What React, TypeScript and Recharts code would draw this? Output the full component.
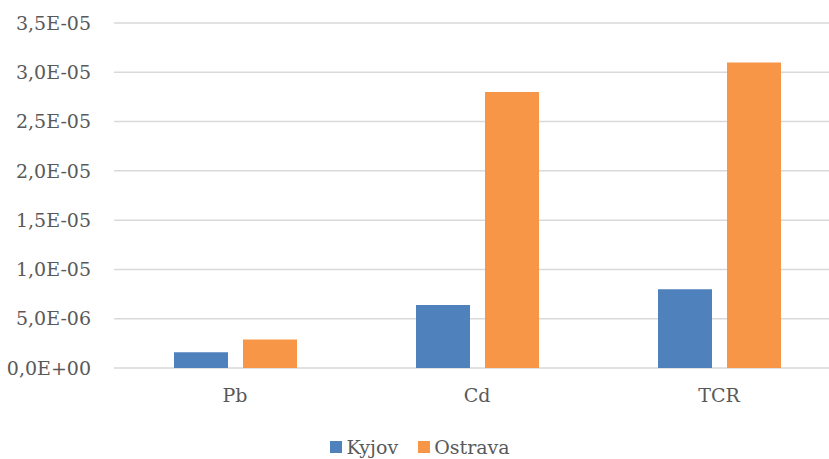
import { Bar, BarChart, CartesianGrid, Legend, XAxis, YAxis } from 'recharts'

const categories = ['Pb', 'Cd', 'TCR']
const kyjov = [1.6e-6, 6.4e-6, 8.0e-6]
const ostrava = [2.9e-6, 2.8e-5, 3.1e-5]
const yTicks = [0, 5e-6, 1e-5, 1.5e-5, 2e-5, 2.5e-5, 3e-5, 3.5e-5]

const seriesList = [
  { key: 'Kyjov', color: '#4F81BD' },
  { key: 'Ostrava', color: '#F79646' },
]

const data = categories.map((name, i) => ({ name, Kyjov: kyjov[i], Ostrava: ostrava[i] }))

const FONT = 'DejaVu Serif'
const FS = 19
const TEXT = '#595959'

function formatSci(v: number) {
  if (v === 0) return '0,0E+00'
  const [mant, exp] = v.toExponential(1).split('e')
  const n = parseInt(exp, 10)
  const sign = n < 0 ? '-' : '+'
  return `${mant.replace('.', ',')}E${sign}${String(Math.abs(n)).padStart(2, '0')}`
}

function LegendContent() {
  return (
    <div
      style={{
        height: 46,
        display: 'flex',
        alignItems: 'flex-end',
        justifyContent: 'center',
        fontFamily: FONT,
        fontSize: FS,
        lineHeight: '20px',
        color: TEXT,
      }}
    >
      {seriesList.map((s, i) => (
        <span
          key={s.key}
          style={{ display: 'flex', alignItems: 'center', height: 20, marginLeft: i ? 20 : 0 }}
        >
          <span style={{ width: 12, height: 12, background: s.color, marginRight: 4, display: 'inline-block' }} />
          {s.key}
        </span>
      ))}
    </div>
  )
}

export default function App() {
  return (
    <div style={{ position: 'absolute', left: 0, top: 0, width: 829, height: 459, overflow: 'hidden', background: '#fff', fontFamily: FONT }}>
      <BarChart
        width={840}
        height={459}
        data={data}
        margin={{ top: 23, right: 0, left: 0, bottom: 2 }}
        barGap={15}
      >
        <CartesianGrid vertical={false} stroke="#D9D9D9" strokeWidth={1.5} />
        <XAxis
          dataKey="name"
          axisLine={false}
          tickLine={false}
          height={43}
          tickMargin={15}
          tick={{ fontSize: FS, fill: TEXT, fontFamily: FONT }}
        />
        <YAxis
          width={114}
          domain={[0, 3.5e-5]}
          ticks={yTicks}
          axisLine={false}
          tickLine={false}
          tickMargin={17}
          tickFormatter={formatSci}
          tick={{ fontSize: FS, fill: TEXT, fontFamily: FONT }}
        />
        <Legend
          verticalAlign="bottom"
          wrapperStyle={{ height: 46 }}
          content={<LegendContent />}
        />
        {seriesList.map((s) => (
          <Bar key={s.key} dataKey={s.key} fill={s.color} barSize={54} isAnimationActive={false} />
        ))}
      </BarChart>
    </div>
  )
}
